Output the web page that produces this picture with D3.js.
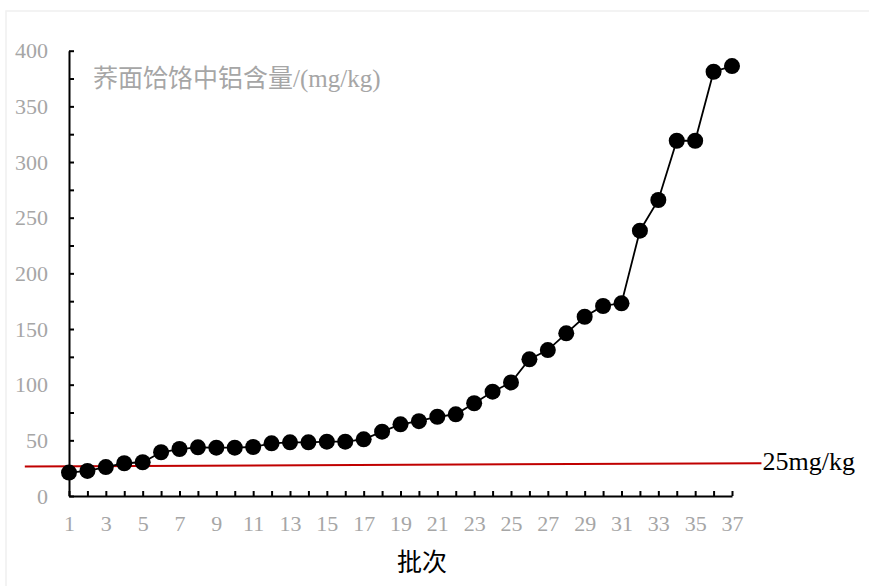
<!DOCTYPE html>
<meta charset="utf-8">
<script src="https://d3js.org/d3.v7.min.js"></script>
<style>
    body { margin: 0; background: #fff; }
    .serif { font-family: 'Liberation Serif', 'Noto Sans CJK SC', serif; }
</style>
<div id="chart"></div>
<script>
    // batch numbers (批次) and aluminium content in mg/kg
    let batches = d3.range(1, 38);
    let aluminium = [21, 22.5, 26, 29.4, 30.3, 39.3, 42.2, 43.7, 43.4, 43.4,
        44, 47.3, 48.2, 48.2, 48.8, 48.8, 50.9, 57.8, 64.4, 67.2,
        71.2, 73.4, 83.3, 93.7, 102, 122.8, 131.1, 146.1, 161, 170.7,
        173.1, 238.3, 265.9, 319.1, 319.1, 381.1, 386.2];
    let yTicks = d3.range(0, 401, 25);
    // the 25mg/kg limit line as drawn (slightly tilted in the original)
    let limitX = [-1.4, 38.6];
    let limitY = [26.4, 29.5];
    let limitLabel = "25mg/kg";
    let title = "荞面饸饹中铝含量/(mg/kg)";
    let xTitle = "批次";

    let width = 869, height = 586;

    let svg = d3.select("#chart")
        .append("svg")
        .attr("width", width)
        .attr("height", height);

    // faint frame
    svg.append("rect")
        .attr("x", 6).attr("y", 11)
        .attr("width", 880).attr("height", 600)
        .attr("fill", "none")
        .attr("stroke", "#f0f0f0")
        .attr("stroke-width", 1.5);

    let x = d3.scaleLinear()
        .domain([1, 37])
        .range([69, 732]);

    let y = d3.scaleLinear()
        .domain([0, 400])
        .range([496, 50.7]);

    // y axis: ticks pointing inward, labels every 50
    let yAxis = svg.append("g")
        .attr("transform", "translate(" + x(1) + ",0)")
        .call(d3.axisLeft(y)
            .tickValues(yTicks)
            .tickSizeInner(-5)
            .tickSizeOuter(0)
            .tickPadding(21)
            .tickFormat(function (d) { return d % 50 === 0 ? d : ""; }));

    // x axis
    let xAxis = svg.append("g")
        .attr("transform", "translate(0," + y(0) + ")")
        .call(d3.axisBottom(x)
            .tickValues(batches)
            .tickSizeInner(-5)
            .tickSizeOuter(0)
            .tickPadding(19)
            .tickFormat(function (d) { return d % 2 === 1 ? d : ""; }));

    [yAxis, xAxis].forEach(function (g) {
        g.attr("font-family", "'Liberation Serif', serif").attr("font-size", 22);
        g.select(".domain").attr("stroke", "#000").attr("stroke-width", 2);
        g.selectAll(".tick line").attr("stroke", "#000").attr("stroke-width", 2);
        g.selectAll(".tick text")
            .style("font-family", "'Liberation Serif', serif")
            .style("font-size", "22px")
            .attr("fill", "#a6a6a6");
    });

    // limit line
    svg.append("line")
        .attr("x1", x(limitX[0])).attr("y1", y(limitY[0]))
        .attr("x2", x(limitX[1])).attr("y2", y(limitY[1]))
        .attr("stroke", "#c00000")
        .attr("stroke-width", 2);

    svg.append("text")
        .attr("class", "serif")
        .attr("x", x(limitX[1]) + 1)
        .attr("y", y(limitY[1]) + 7)
        .style("font-size", "26px")
        .attr("fill", "#000")
        .text(limitLabel);

    // series line and markers
    let line = d3.line()
        .x(function (d, i) { return x(batches[i]); })
        .y(function (d) { return y(d); });

    svg.append("path")
        .datum(aluminium)
        .attr("d", line)
        .attr("fill", "none")
        .attr("stroke", "#000")
        .attr("stroke-width", 1.8);

    svg.selectAll("circle")
        .data(aluminium)
        .enter()
        .append("circle")
        .attr("cx", function (d, i) { return x(batches[i]); })
        .attr("cy", function (d) { return y(d); })
        .attr("r", 8)
        .attr("fill", "#000");

    // chart title inside plot
    svg.append("text")
        .attr("class", "serif")
        .attr("x", 93)
        .attr("y", 87)
        .style("font-size", "25px")
        .attr("fill", "#a6a6a6")
        .text(title);

    // x axis title
    svg.append("text")
        .attr("class", "serif")
        .attr("x", 422)
        .attr("y", 571)
        .attr("text-anchor", "middle")
        .style("font-size", "25px")
        .attr("fill", "#000")
        .text(xTitle);
</script>
